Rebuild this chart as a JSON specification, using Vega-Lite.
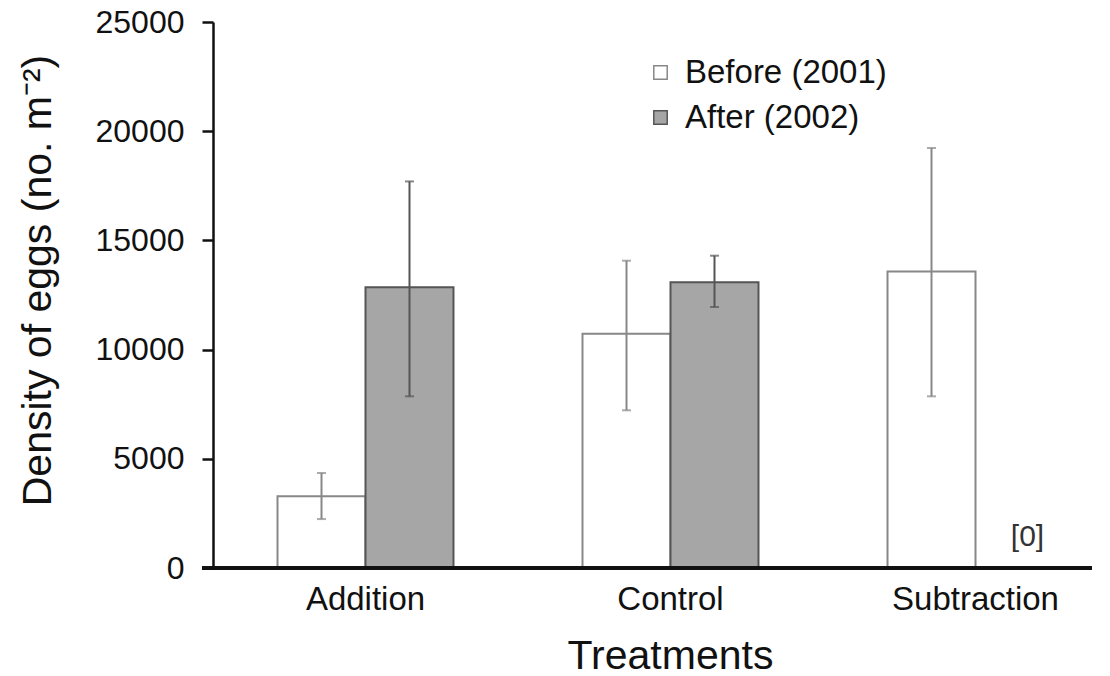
{
  "$schema": "https://vega.github.io/schema/vega-lite/v6.json",
  "width": 879,
  "height": 546,
  "autosize": {"type": "none"},
  "padding": {"left": 213, "top": 22, "right": 18, "bottom": 108},
  "background": "white",
  "config": {
    "font": "Liberation Sans",
    "view": {"stroke": null},
    "axis": {"grid": false}
  },
  "data": {
    "values": [
      {"treatment": "Addition", "period": "Before (2001)", "mean": 3280, "lo": 2240, "hi": 4350, "note": ""},
      {"treatment": "Addition", "period": "After (2002)", "mean": 12850, "lo": 7860, "hi": 17700, "note": ""},
      {"treatment": "Control", "period": "Before (2001)", "mean": 10730, "lo": 7220, "hi": 14070, "note": ""},
      {"treatment": "Control", "period": "After (2002)", "mean": 13080, "lo": 11950, "hi": 14300, "note": ""},
      {"treatment": "Subtraction", "period": "Before (2001)", "mean": 13580, "lo": 7860, "hi": 19230, "note": ""},
      {"treatment": "Subtraction", "period": "After (2002)", "mean": 0, "lo": null, "hi": null, "note": "[0]"}
    ]
  },
  "encoding": {
    "x": {
      "field": "treatment",
      "type": "nominal",
      "sort": ["Addition", "Control", "Subtraction"],
      "scale": {"range": [0, 915], "paddingInner": 0.423, "paddingOuter": 0.2115},
      "axis": {
        "title": "Treatments",
        "titleFontSize": 41,
        "titleFontWeight": "normal",
        "titleColor": "#111",
        "titleX": 457,
        "titleY": 100,
        "titleBaseline": "alphabetic",
        "labelAngle": 0,
        "labelFontSize": 33,
        "labelColor": "#111",
        "labelPadding": 15,
        "ticks": false,
        "domain": false
      }
    },
    "xOffset": {
      "field": "period",
      "type": "nominal",
      "sort": ["Before (2001)", "After (2002)"],
      "scale": {"paddingInner": 0, "paddingOuter": 0}
    }
  },
  "layer": [
    {
      "mark": {"type": "bar", "strokeWidth": 2},
      "encoding": {
        "y": {
          "field": "mean",
          "type": "quantitative",
          "scale": {"domain": [0, 25000], "nice": false},
          "axis": {
            "title": "Density of eggs (no. m⁻²)",
            "titleFontSize": 41,
            "titleFontWeight": "normal",
            "titleColor": "#111",
            "titleAngle": -90,
            "titleX": -163,
            "titleY": 258,
            "titleAlign": "center",
            "titleBaseline": "alphabetic",
            "values": [0, 5000, 10000, 15000, 20000, 25000],
            "format": "d",
            "labelFontSize": 32,
            "labelColor": "#111",
            "labelPadding": 18,
            "tickSize": 11,
            "tickWidth": 2.5,
            "tickColor": "#111",
            "domainColor": "#111",
            "domainWidth": 2.5
          }
        },
        "fill": {
          "field": "period",
          "type": "nominal",
          "sort": ["Before (2001)", "After (2002)"],
          "scale": {"domain": ["Before (2001)", "After (2002)"], "range": ["#ffffff", "#a6a6a6"]},
          "legend": {
            "title": null,
            "orient": "none",
            "legendX": 431,
            "legendY": 34,
            "symbolType": "square",
            "symbolSize": 180,
            "symbolStrokeWidth": 1.5,
            "labelFontSize": 33,
            "labelColor": "#111",
            "labelOffset": 8,
            "labelLimit": 0,
            "rowPadding": 11
          }
        },
        "stroke": {
          "field": "period",
          "type": "nominal",
          "sort": ["Before (2001)", "After (2002)"],
          "scale": {"domain": ["Before (2001)", "After (2002)"], "range": ["#888888", "#555555"]},
          "legend": {
            "title": null,
            "orient": "none",
            "legendX": 431,
            "legendY": 34,
            "symbolType": "square",
            "symbolSize": 180,
            "symbolStrokeWidth": 1.5,
            "labelFontSize": 33,
            "labelColor": "#111",
            "labelOffset": 8,
            "labelLimit": 0,
            "rowPadding": 11
          }
        }
      }
    },
    {
      "transform": [{"filter": "datum.hi != null"}],
      "mark": {"type": "rule", "strokeWidth": 2},
      "encoding": {
        "y": {"field": "lo", "type": "quantitative"},
        "y2": {"field": "hi"},
        "color": {"condition": {"test": "datum.period == 'After (2002)'", "value": "#555555"}, "value": "#888888"}
      }
    },
    {
      "transform": [{"filter": "datum.hi != null"}],
      "mark": {"type": "tick", "thickness": 2, "size": 9, "orient": "horizontal"},
      "encoding": {
        "y": {"field": "lo", "type": "quantitative"},
        "color": {"condition": {"test": "datum.period == 'After (2002)'", "value": "#555555"}, "value": "#888888"}
      }
    },
    {
      "transform": [{"filter": "datum.hi != null"}],
      "mark": {"type": "tick", "thickness": 2, "size": 9, "orient": "horizontal"},
      "encoding": {
        "y": {"field": "hi", "type": "quantitative"},
        "color": {"condition": {"test": "datum.period == 'After (2002)'", "value": "#555555"}, "value": "#888888"}
      }
    },
    {
      "transform": [{"filter": "datum.note != ''"}],
      "mark": {"type": "text", "fontSize": 30, "color": "#333333", "dy": -22, "dx": 8, "baseline": "alphabetic"},
      "encoding": {
        "y": {"field": "mean", "type": "quantitative"},
        "text": {"field": "note"}
      }
    },
    {
      "mark": {"type": "rule", "color": "#111", "strokeWidth": 3},
      "encoding": {
        "y": {"datum": 0},
        "x": {"value": -11},
        "x2": {"value": 879},
        "xOffset": null
      }
    }
  ]
}
